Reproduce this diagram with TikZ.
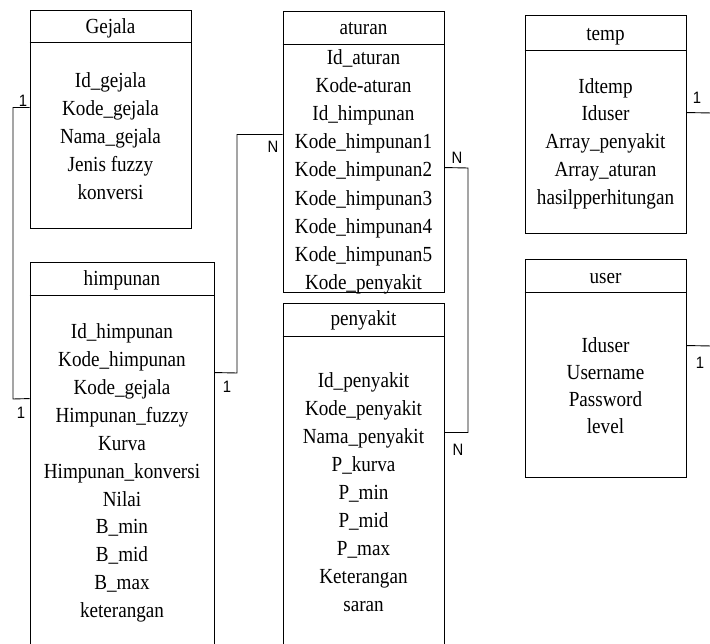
\documentclass[tikz,border=0pt]{standalone}
\usepackage{fontspec}
\setmainfont{Liberation Serif}
\newfontfamily\tnrfont[FakeStretch=0.89]{Liberation Serif}
\newfontfamily\lblfont[FakeStretch=0.9]{Liberation Sans}
\usetikzlibrary{calc}
\begin{document}
\begin{tikzpicture}[x=1pt,y=-1pt,
  tbl/.style={draw,line width=0.9pt,inner sep=0,minimum width=161pt},
  ttl/.style={inner sep=0,anchor=base,font=\tnrfont\fontsize{21.5}{25}\selectfont},
  body/.style={inner sep=0,anchor=north,align=center},
  lbl/.style={inner sep=0,font=\lblfont\fontsize{16.5}{19}\selectfont},
  conn/.style={line width=0.9pt}]
\clip (0,0) rectangle (710,644);
\useasboundingbox (0,0) rectangle (710,644);
% tables
\node[tbl,minimum height=218pt] (gejala) at (110.5,119) {};
\node[tbl,minimum width=184pt,minimum height=438pt] (himpunan) at (122,481) {};
\node[tbl,minimum height=281pt] (aturan) at (363.5,151.5) {};
\node[tbl,minimum height=397pt] (penyakit) at (363.5,501.5) {};
\node[tbl,minimum height=218pt] (temp) at (605.5,124) {};
\node[tbl,minimum height=218pt] (user) at (605.5,368) {};
% header lines
\draw[conn] ($(gejala.north west)+(0,33)$) -- ($(gejala.north east)+(0,33)$);
\draw[conn] ($(himpunan.north west)+(0,34)$) -- ($(himpunan.north east)+(0,34)$);
\draw[conn] ($(aturan.north west)+(0,34)$) -- ($(aturan.north east)+(0,34)$);
\draw[conn] ($(penyakit.north west)+(0,34)$) -- ($(penyakit.north east)+(0,34)$);
\draw[conn] ($(temp.north west)+(0,36)$) -- ($(temp.north east)+(0,36)$);
\draw[conn] ($(user.north west)+(0,34)$) -- ($(user.north east)+(0,34)$);
% titles
\node[ttl] (gejalaT) at (110.5,33.3) {Gejala};
\node[ttl] (himpunanT) at (122,286) {himpunan};
\node[ttl] (aturanT) at (363.5,35) {aturan};
\node[ttl] (penyakitT) at (363.5,326) {penyakit};
\node[ttl] (tempT) at (605.5,40.7) {temp};
\node[ttl] (userT) at (605.5,283.3) {user};
% bodies
\node[body,font=\tnrfont\fontsize{21.5}{28.2}\selectfont] (gejalaB) at (110.5,71.9) {Id\_gejala\\Kode\_gejala\\Nama\_gejala\\Jenis fuzzy\\konversi};
\node[body,font=\tnrfont\fontsize{21.5}{27.9}\selectfont] (himpunanB) at (122,323.5) {Id\_himpunan\\Kode\_himpunan\\Kode\_gejala\\Himpunan\_fuzzy\\Kurva\\Himpunan\_konversi\\Nilai\\B\_min\\B\_mid\\B\_max\\keterangan};
\node[body,font=\tnrfont\fontsize{21.5}{28.2}\selectfont] (aturanB) at (363.5,48.9) {Id\_aturan\\Kode-aturan\\Id\_himpunan\\Kode\_himpunan1\\Kode\_himpunan2\\Kode\_himpunan3\\Kode\_himpunan4\\Kode\_himpunan5\\Kode\_penyakit};
\node[body,font=\tnrfont\fontsize{21.5}{28.1}\selectfont] (penyakitB) at (363.5,371.9) {Id\_penyakit\\Kode\_penyakit\\Nama\_penyakit\\P\_kurva\\P\_min\\P\_mid\\P\_max\\Keterangan\\saran};
\node[body,font=\tnrfont\fontsize{21.5}{27.8}\selectfont] (tempB) at (605.5,77.9) {Idtemp\\Iduser\\Array\_penyakit\\Array\_aturan\\hasilpperhitungan};
\node[body,font=\tnrfont\fontsize{21.5}{27}\selectfont] (userB) at (605.5,337.2) {Iduser\\Username\\Password\\level};
% connectors
\coordinate (gOut) at ($(gejala.north west)+(0,98)$);
\coordinate (hIn) at ($(himpunan.north west)+(0,137)$);
\draw[conn] (gOut) -| (13,399) -- (hIn);
\coordinate (hOut) at ($(himpunan.north east)+(0,111)$);
\coordinate (aIn) at ($(aturan.north west)+(0,124)$);
\draw[conn] (hOut) -- (237,373) |- (aIn);
\coordinate (aOut) at ($(aturan.north east)+(0,157)$);
\coordinate (pIn) at ($(penyakit.north east)+(0,130)$);
\draw[conn] (aOut) -- (468,168) |- (pIn);
\coordinate (tOut) at ($(temp.north east)+(0,98)$);
\coordinate (tEnd) at (712,113);
\draw[conn] (tOut) -- (tEnd);
\coordinate (uOut) at ($(user.north east)+(0,87)$);
\coordinate (uEnd) at (712,346);
\draw[conn] (uOut) -- (uEnd);
% labels
\node[lbl] (l1) at (23,100.5) {1};
\node[lbl] (l2) at (21,413) {1};
\node[lbl] (l3) at (227,387) {1};
\node[lbl] (l4) at (273,147) {N};
\node[lbl] (l5) at (457,158) {N};
\node[lbl] (l6) at (458,450) {N};
\node[lbl] (l7) at (697,98) {1};
\node[lbl] (l8) at (700,363) {1};
\end{tikzpicture}
\end{document}
